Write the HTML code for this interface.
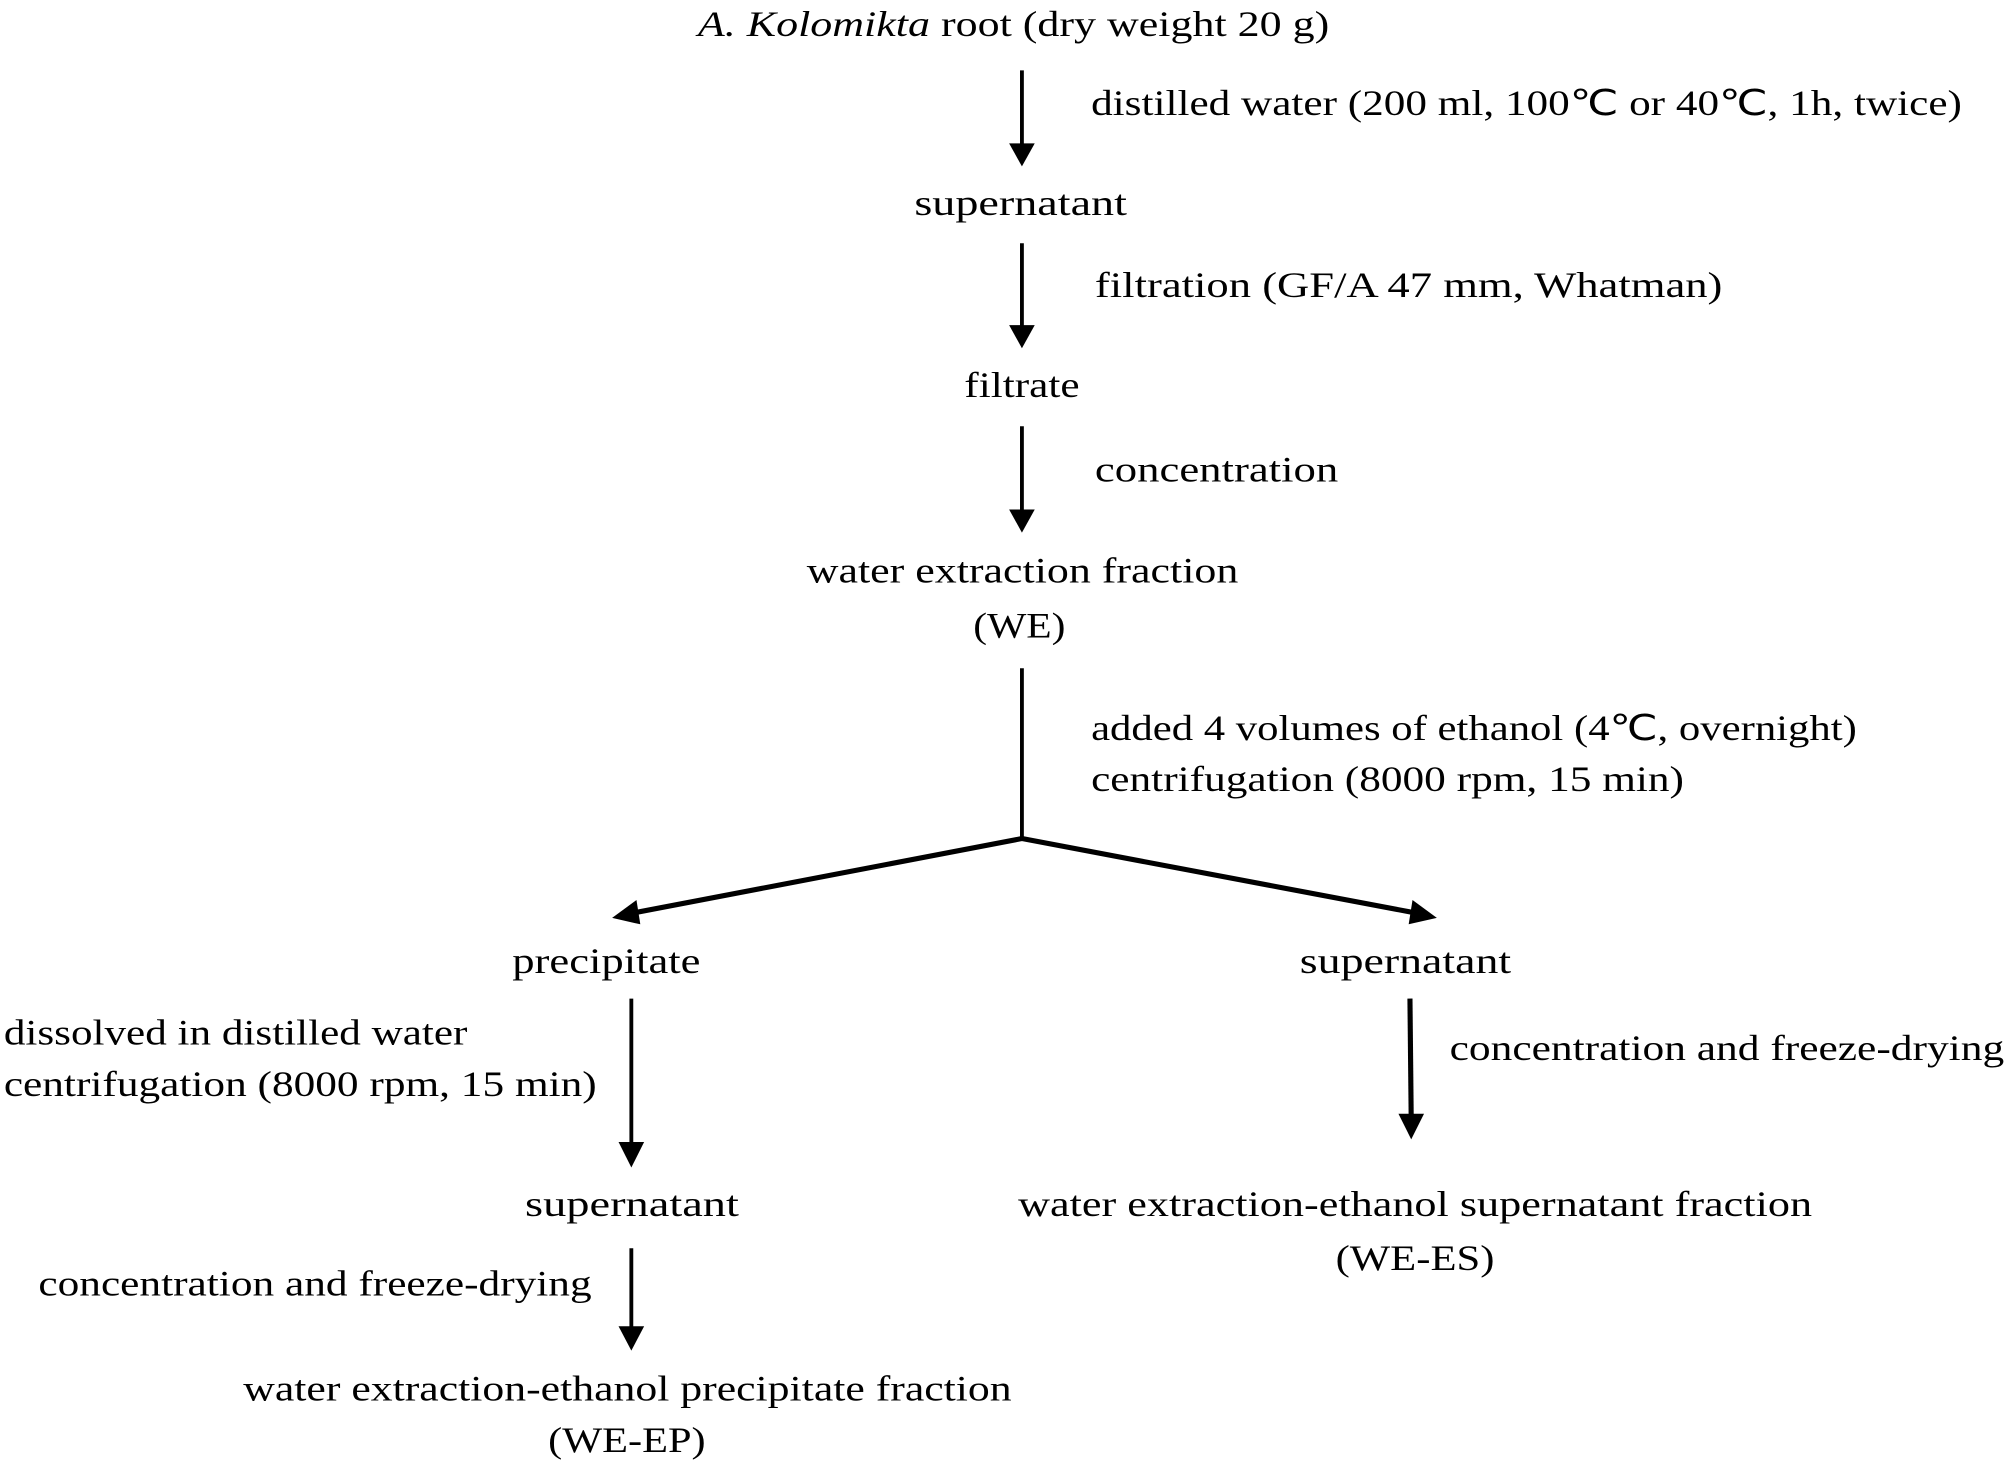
<!DOCTYPE html>
<html><head><meta charset="utf-8"><style>
html,body{margin:0;padding:0;background:#fff;}
svg{display:block;}
text{font-family:"Liberation Serif",serif;font-size:28px;fill:#000;}
</style></head><body>
<svg width="2008" height="1462" viewBox="0 0 1568 1142" preserveAspectRatio="none" xmlns="http://www.w3.org/2000/svg">
<defs>
<marker id="ah" markerWidth="8" markerHeight="8" refX="6" refY="4" orient="auto" markerUnits="userSpaceOnUse" viewBox="0 0 8 8">
</marker>
</defs>
<g stroke="#000" stroke-width="3" fill="none">
<line x1="798" y1="55" x2="798" y2="118"/>
<line x1="798" y1="190" x2="798" y2="260"/>
<line x1="798" y1="333" x2="798" y2="404"/>
<line x1="798" y1="522" x2="798" y2="655"/>
<line x1="798" y1="655" x2="490" y2="714" stroke-width="4"/>
<line x1="798" y1="655" x2="1110" y2="714" stroke-width="4"/>
<line x1="493" y1="780" x2="493" y2="898"/>
<line x1="1101" y1="780" x2="1102" y2="876" stroke-width="4"/>
<line x1="493" y1="975" x2="493" y2="1042"/>
</g>
<g fill="#000">
<polygon points="788,112 808,112 798,130"/>
<polygon points="788,254 808,254 798,272"/>
<polygon points="788,398 808,398 798,416"/>
<polygon points="478,717 497,703 500,722"/>
<polygon points="1122,717 1103,703 1100,722"/>
<polygon points="483,892 503,892 493,912"/>
<polygon points="1092,870 1112,870 1102,890"/>
<polygon points="483,1036 503,1036 493,1055"/>
</g>
<text x="545" y="28" textLength="493" lengthAdjust="spacingAndGlyphs"><tspan font-style="italic">A. Kolomikta</tspan> root (dry weight 20 g)</text>
<text x="852" y="90" textLength="680" lengthAdjust="spacingAndGlyphs">distilled water (200 ml, 100℃ or 40℃, 1h, twice)</text>
<text x="714" y="168" textLength="166" lengthAdjust="spacingAndGlyphs">supernatant</text>
<text x="855" y="232" textLength="490" lengthAdjust="spacingAndGlyphs">filtration (GF/A 47 mm, Whatman)</text>
<text x="753" y="310" textLength="90" lengthAdjust="spacingAndGlyphs">filtrate</text>
<text x="855" y="376" textLength="190" lengthAdjust="spacingAndGlyphs">concentration</text>
<text x="630" y="455" textLength="337" lengthAdjust="spacingAndGlyphs">water extraction fraction</text>
<text x="760" y="498" textLength="72" lengthAdjust="spacingAndGlyphs">(WE)</text>
<text x="852" y="578" textLength="598" lengthAdjust="spacingAndGlyphs">added 4 volumes of ethanol (4℃, overnight)</text>
<text x="852" y="618" textLength="463" lengthAdjust="spacingAndGlyphs">centrifugation (8000 rpm, 15 min)</text>
<text x="400" y="760" textLength="147" lengthAdjust="spacingAndGlyphs">precipitate</text>
<text x="1015" y="760" textLength="165" lengthAdjust="spacingAndGlyphs">supernatant</text>
<text x="3" y="816" textLength="362" lengthAdjust="spacingAndGlyphs">dissolved in distilled water</text>
<text x="3" y="856" textLength="463" lengthAdjust="spacingAndGlyphs">centrifugation (8000 rpm, 15 min)</text>
<text x="1132" y="828" textLength="433" lengthAdjust="spacingAndGlyphs">concentration and freeze-drying</text>
<text x="410" y="950" textLength="167" lengthAdjust="spacingAndGlyphs">supernatant</text>
<text x="795" y="950" textLength="620" lengthAdjust="spacingAndGlyphs">water extraction-ethanol supernatant fraction</text>
<text x="1043" y="992" textLength="124" lengthAdjust="spacingAndGlyphs">(WE-ES)</text>
<text x="30" y="1012" textLength="432" lengthAdjust="spacingAndGlyphs">concentration and freeze-drying</text>
<text x="190" y="1094" textLength="600" lengthAdjust="spacingAndGlyphs">water extraction-ethanol precipitate fraction</text>
<text x="428" y="1134" textLength="123" lengthAdjust="spacingAndGlyphs">(WE-EP)</text>
</svg>
</body></html>
